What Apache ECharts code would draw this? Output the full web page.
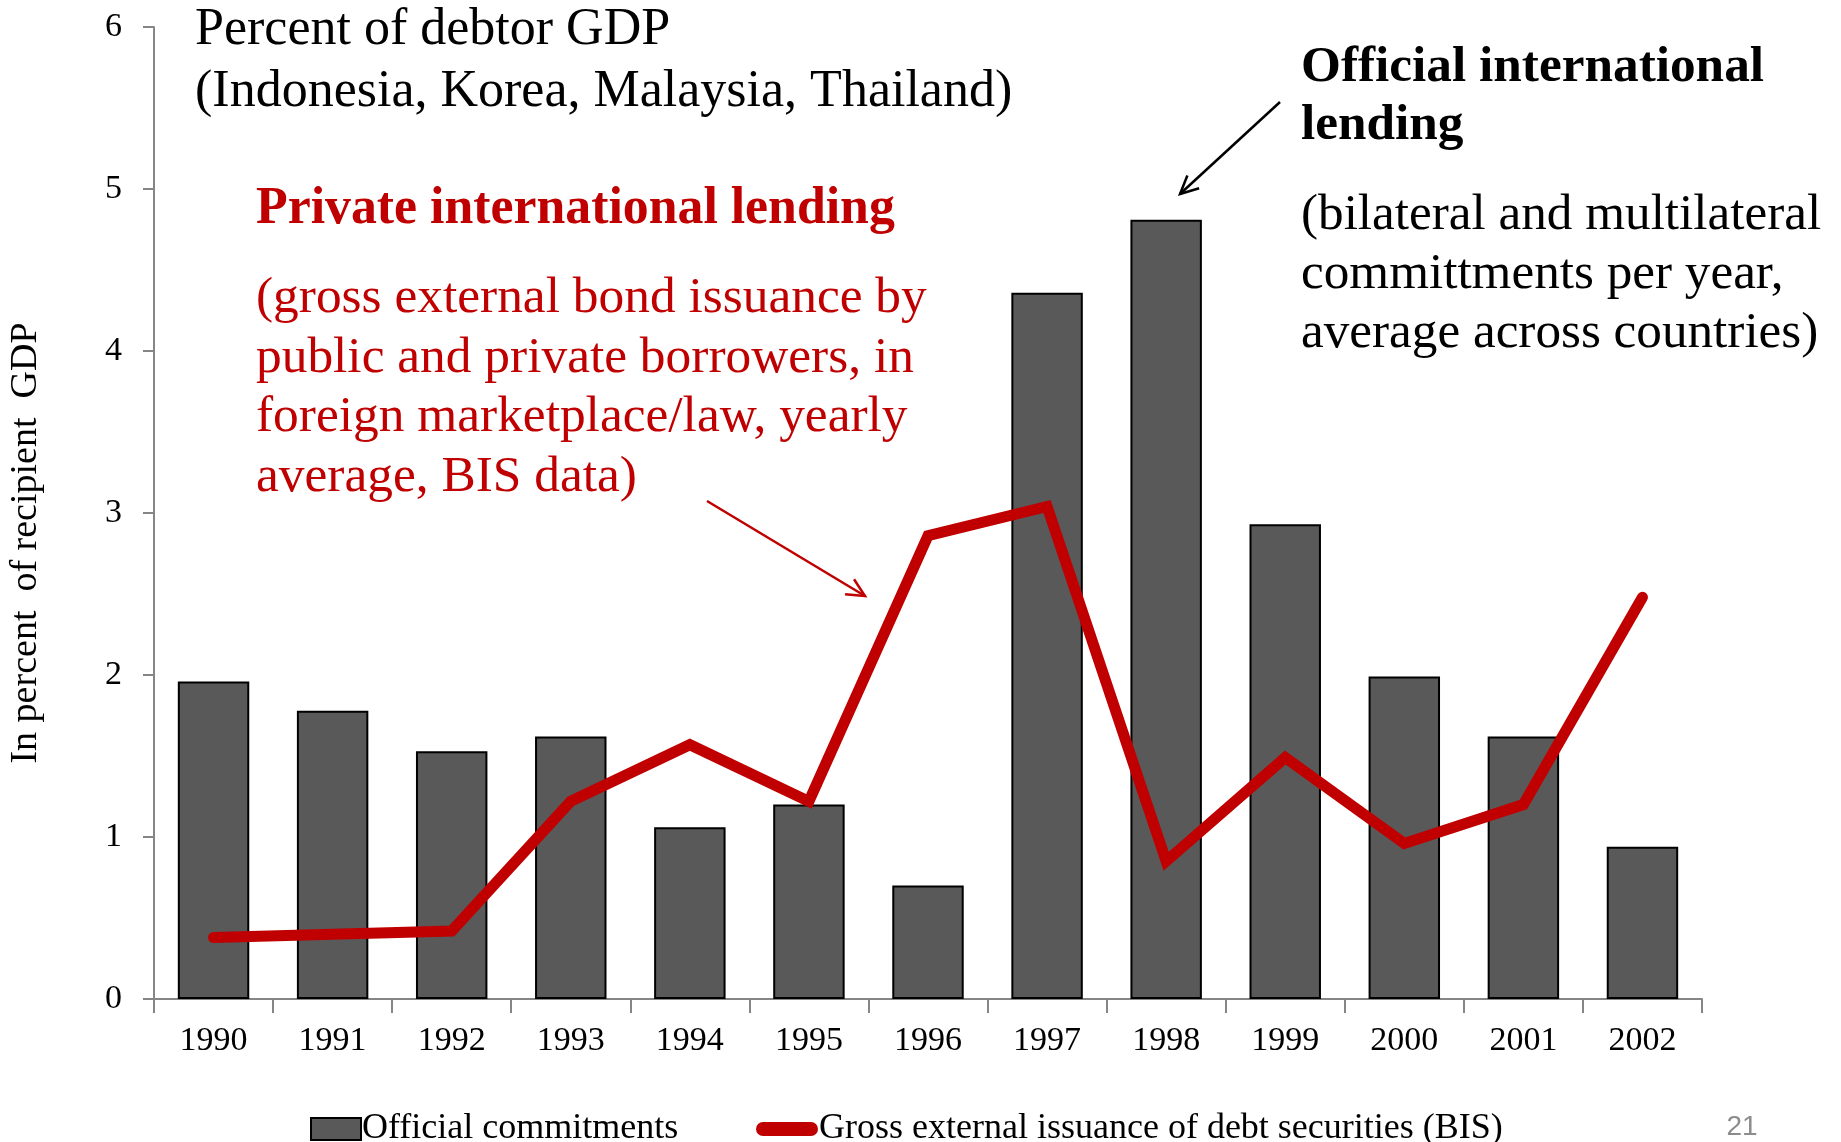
<!DOCTYPE html>
<html>
<head>
<meta charset="utf-8">
<title>Official vs private international lending</title>
<script src="https://cdn.jsdelivr.net/npm/echarts@6/dist/echarts.min.js"></script>
<style>
  html, body { margin: 0; padding: 0; background: #ffffff; }
  #chart { width: 1841px; height: 1142px; }
</style>
</head>
<body>
<div id="chart"></div>
<script>
// Years on the category axis
var years = ['1990', '1991', '1992', '1993', '1994', '1995', '1996',
             '1997', '1998', '1999', '2000', '2001', '2002'];

// Official commitments, percent of recipient GDP (bars)
var officialCommitments = [1.96, 1.78, 1.53, 1.62, 1.06, 1.20, 0.70,
                           4.36, 4.81, 2.93, 1.99, 1.62, 0.94];

// Gross external issuance of debt securities, BIS (line)
var grossIssuance = [0.38, 0.40, 0.42, 1.22, 1.57, 1.22, 2.86,
                     3.04, 0.85, 1.49, 0.96, 1.20, 2.48];

// Value-axis ticks
var yTicks = [0, 1, 2, 3, 4, 5, 6];

var SERIF = '"Liberation Serif", "Times New Roman", serif';
var RED = '#C00000';

// Open V-shaped arrow from (x1,y1) to tip (x2,y2)
function arrow(x1, y1, x2, y2, color, width, head) {
  var dx = x2 - x1, dy = y2 - y1;
  var len = Math.sqrt(dx * dx + dy * dy);
  var bx = -dx / len, by = -dy / len;
  var a = Math.PI / 7;
  var c = Math.cos(a), s = Math.sin(a);
  var w1 = [x2 + head * (bx * c - by * s), y2 + head * (bx * s + by * c)];
  var w2 = [x2 + head * (bx * c + by * s), y2 + head * (-bx * s + by * c)];
  return {
    type: 'group',
    children: [
      { type: 'line', shape: { x1: x1, y1: y1, x2: x2, y2: y2 },
        style: { stroke: color, lineWidth: width } },
      { type: 'polyline', shape: { points: [w1, [x2, y2], w2] },
        style: { stroke: color, lineWidth: width, fill: null } }
    ]
  };
}

var chart = echarts.init(document.getElementById('chart'), null, { renderer: 'canvas' });

var option = {
  backgroundColor: '#ffffff',
  animation: false,
  grid: { left: 154, right: 139, top: 27, bottom: 143, containLabel: false },
  xAxis: {
    type: 'category',
    data: years,
    boundaryGap: true,
    axisLine: { show: true, lineStyle: { color: '#868686', width: 2 } },
    axisTick: { show: true, alignWithLabel: false, length: 14, inside: false,
                lineStyle: { color: '#868686', width: 2 } },
    axisLabel: { color: '#000', fontFamily: SERIF, fontSize: 34, margin: 25 },
    splitLine: { show: false }
  },
  yAxis: {
    type: 'value',
    min: yTicks[0],
    max: yTicks[yTicks.length - 1],
    interval: 1,
    axisLine: { show: true, lineStyle: { color: '#868686', width: 2 } },
    axisTick: { show: true, length: 11, lineStyle: { color: '#868686', width: 2 } },
    axisLabel: { color: '#000', fontFamily: SERIF, fontSize: 34, margin: 32 },
    splitLine: { show: false }
  },
  legend: [
    {
      data: [{ name: 'Official commitments' }],
      left: 305, top: 1106,
      itemWidth: 50, itemHeight: 22, itemGap: 4,
      icon: 'rect',
      itemStyle: { color: '#595959', borderColor: '#000', borderWidth: 2 },
      textStyle: { color: '#000', fontFamily: SERIF, fontSize: 36, padding: [0, 0, 0, -4] },
      selectedMode: false
    },
    {
      data: [{ name: 'Gross external issuance of debt securities (BIS)' }],
      left: 751, top: 1106,
      itemWidth: 62, itemHeight: 14, itemGap: 4,
      icon: 'path://M7,0 L55,0 A7,7 0 0 1 55,14 L7,14 A7,7 0 0 1 7,0 Z',
      itemStyle: { color: RED, borderWidth: 0 },
      lineStyle: { width: 0 },
      textStyle: { color: '#000', fontFamily: SERIF, fontSize: 36, padding: [0, 0, 0, -4] },
      selectedMode: false
    }
  ],
  series: [
    {
      name: 'Official commitments',
      type: 'bar',
      data: officialCommitments,
      barCategoryGap: '40%',
      itemStyle: { color: '#595959', borderColor: '#000', borderWidth: 2 },
      z: 2
    },
    {
      name: 'Gross external issuance of debt securities (BIS)',
      type: 'line',
      data: grossIssuance,
      symbol: 'none',
      lineStyle: { color: RED, width: 11, cap: 'round', join: 'miter' },
      itemStyle: { color: RED },
      z: 3
    }
  ],
  graphic: [
    { type: 'text', left: 195, top: -1,
      style: { text: 'Percent of debtor GDP\n(Indonesia, Korea, Malaysia, Thailand)',
               font: '52px ' + SERIF, fill: '#000', lineHeight: 62 } },
    { type: 'text', left: 256, top: 180,
      style: { text: 'Private international lending',
               font: 'bold 51.8px ' + SERIF, fill: RED, lineHeight: 60 } },
    { type: 'text', left: 256, top: 269,
      style: { text: '(gross external bond issuance by\npublic and private borrowers, in\nforeign marketplace/law, yearly\naverage, BIS data)',
               font: '51.4px ' + SERIF, fill: RED, lineHeight: 59.5 } },
    { type: 'text', left: 1301, top: 39,
      style: { text: 'Official international\nlending',
               font: 'bold 51.3px ' + SERIF, fill: '#000', lineHeight: 58 } },
    { type: 'text', left: 1301, top: 186,
      style: { text: '(bilateral and multilateral\ncommittments per year,\naverage across countries)',
               font: '51.2px ' + SERIF, fill: '#000', lineHeight: 59 } },
    { type: 'text', x: 26, y: 543, rotation: Math.PI / 2,
      style: { text: 'In percent  of recipient  GDP', font: '38px ' + SERIF, fill: '#000',
               align: 'center', verticalAlign: 'middle' } },
    { type: 'text', x: 1742, y: 1127,
      style: { text: '21', font: '28px "Liberation Sans", sans-serif', fill: '#8c8c8c',
               align: 'center', verticalAlign: 'middle' } },
    arrow(1280, 102, 1180, 194, '#000', 2.5, 20),
    arrow(707, 501, 865, 596, RED, 2.5, 20)
  ]
};

chart.setOption(option);
</script>
</body>
</html>
